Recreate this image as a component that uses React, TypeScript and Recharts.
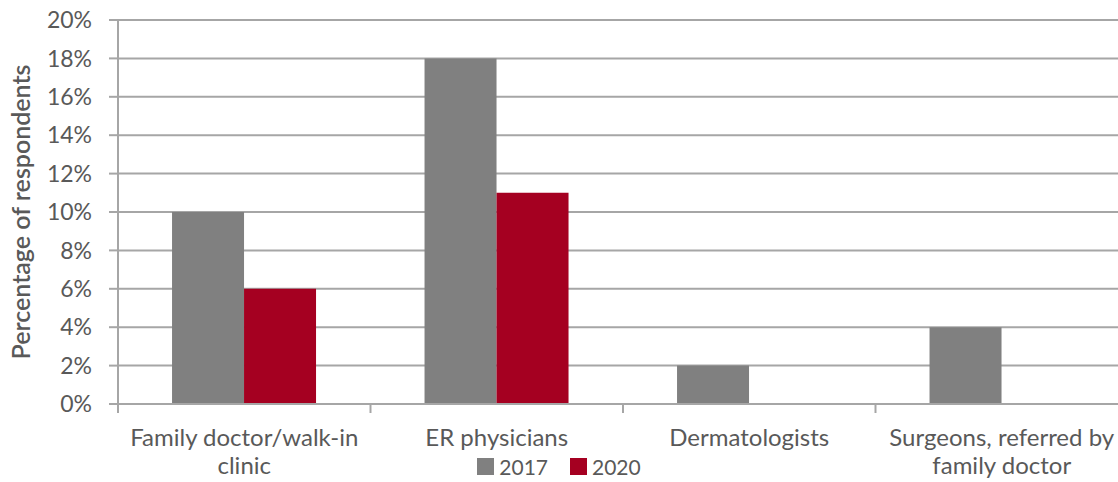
import React from "react";
import { BarChart, Bar, XAxis, YAxis, CartesianGrid, Legend } from "recharts";

const categories = [
  "Family doctor/walk-in clinic",
  "ER physicians",
  "Dermatologists",
  "Surgeons, referred by family doctor",
];
const series2017 = [10, 18, 2, 4];
const series2020 = [6, 11, 0, 0];
const yTicks = [0, 2, 4, 6, 8, 10, 12, 14, 16, 18, 20];
const seriesNames = ["2017", "2020"];
const yLabel = "Percentage of respondents";

const data = categories.map((c, i) => ({
  name: c,
  y2017: series2017[i],
  y2020: series2020[i],
}));

const FONT = "Lato, 'Source Sans Pro', sans-serif";
const TEXT = "#595959";
const GRID = "#a6a6a6";
const GRAY = "#808080";
const RED = "#a50021";

const CHART_W = 1130;
const CHART_H = 482;
const MARGIN = { top: 20, right: 2, bottom: 0, left: 0 };
const Y_W = 118;
const X_H = 78;
const PLOT_W = CHART_W - MARGIN.left - MARGIN.right - Y_W;
const BAND = PLOT_W / categories.length;
const MAX_CHARS = 22;

function wrap(s: string): string[] {
  const words = s.split(" ");
  const lines: string[] = [];
  let cur = "";
  for (const w of words) {
    const next = cur ? cur + " " + w : w;
    if (next.length > MAX_CHARS && cur) {
      lines.push(cur);
      cur = w;
    } else {
      cur = next;
    }
  }
  if (cur) lines.push(cur);
  return lines;
}

const CategoryTick = (props: any) => {
  const { x, y, payload, index } = props;
  const half = BAND / 2;
  const lines = wrap(String(payload.value));
  return (
    <g>
      <line x1={x - half} y1={y - 8} x2={x - half} y2={y + 1} stroke={GRID} strokeWidth={2} />
      {index === categories.length - 1 && (
        <line x1={x + half} y1={y - 8} x2={x + half} y2={y + 1} stroke={GRID} strokeWidth={2} />
      )}
      <text
        x={x}
        y={y + 34}
        textAnchor="middle"
        style={{ fontFamily: FONT, fontSize: 24, fill: TEXT }}
      >
        {lines.map((l, i) => (
          <tspan key={i} x={x} dy={i === 0 ? 0 : 28}>
            {l}
          </tspan>
        ))}
      </text>
    </g>
  );
};

const LegendContent = () => (
  <div
    style={{
      display: "flex",
      justifyContent: "center",
      alignItems: "center",
      fontFamily: FONT,
      fontSize: 21,
      color: TEXT,
      gap: 22,
    }}
  >
    {seriesNames.map((n, i) => (
      <div key={n} style={{ display: "flex", alignItems: "center" }}>
        <span
          style={{
            display: "inline-block",
            width: 17,
            height: 17,
            background: i === 0 ? GRAY : RED,
            marginRight: 5,
          }}
        />
        <span>{n}</span>
      </div>
    ))}
  </div>
);

export default function App() {
  return (
    <div
      style={{
        position: "absolute",
        left: 0,
        top: 0,
        width: 1118,
        height: 482,
        overflow: "hidden",
        background: "#fff",
      }}
    >
      <BarChart
        width={CHART_W}
        height={CHART_H}
        data={data}
        margin={MARGIN}
        barCategoryGap="21.4%"
        barGap={0}
      >
        <CartesianGrid vertical={false} stroke={GRID} strokeWidth={2} />
        <XAxis
          dataKey="name"
          height={X_H}
          axisLine={{ stroke: GRID, strokeWidth: 2 }}
          tickLine={false}
          tick={<CategoryTick />}
          interval={0}
        />
        <YAxis
          width={Y_W}
          domain={[0, 20]}
          ticks={yTicks}
          interval={0}
          tickFormatter={(v: number) => `${v}%`}
          axisLine={{ stroke: GRID, strokeWidth: 2 }}
          tickLine={{ stroke: GRID, strokeWidth: 2 }}
          tickSize={9}
          tickMargin={17}
          tick={{ fontFamily: FONT, fontSize: 23, fill: TEXT }}
          label={(p: any) => {
            const vb = p.viewBox || {};
            const cy = (vb.y ?? 20) + (vb.height ?? 384) / 2;
            return (
              <text
                x={20}
                y={cy}
                transform={`rotate(-90, 20, ${cy})`}
                textAnchor="middle"
                dominantBaseline="central"
                style={{ fontFamily: FONT, fontSize: 25, fontWeight: 600, fill: TEXT }}
              >
                {yLabel}
              </text>
            );
          }}
        />
        <Legend
          layout="horizontal"
          verticalAlign="middle"
          align="center"
          content={<LegendContent />}
          wrapperStyle={{ top: 454, left: 0, width: 1118 }}
        />
        <Bar dataKey="y2017" name={seriesNames[0]} fill={GRAY} isAnimationActive={false} />
        <Bar dataKey="y2020" name={seriesNames[1]} fill={RED} isAnimationActive={false} />
      </BarChart>
    </div>
  );
}
